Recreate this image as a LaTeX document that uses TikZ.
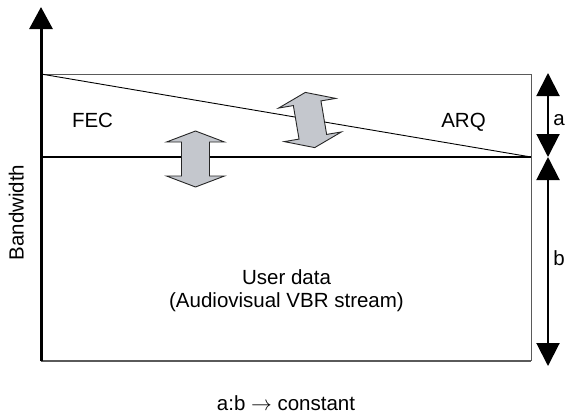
\documentclass[tikz,border=0pt]{standalone}
\usepackage{fontspec}
\setmainfont{Liberation Sans}
\usetikzlibrary{arrows.meta}
\definecolor{arrowfill}{RGB}{196,199,205}
\definecolor{boxline}{RGB}{90,90,90}
\tikzset{
  lbl/.style={font=\fontsize{20.5}{24}\selectfont, inner sep=0pt, anchor=base},
  dimline/.style={line width=2pt, {Triangle[width=23pt,length=23pt]}-{Triangle[width=23pt,length=23pt]}},
  dblarrow/.style={draw=black!85, line width=0.9pt, fill=arrowfill, line join=miter}
}
\begin{document}
\begin{tikzpicture}[x=1pt,y=-1pt]
\useasboundingbox (0,0) rectangle (565,416);
% coordinates
\coordinate (origin) at (41,361);
\coordinate (axistop) at (41,7);
\coordinate (tl) at (41,74);
\coordinate (tr) at (531,74);
\coordinate (ml) at (41,157);
\coordinate (mr) at (531,157);
\coordinate (br) at (531,361);
\coordinate (dtop) at (548,73);
\coordinate (dmid) at (548,157);
\coordinate (dbot) at (548,366);
% box
\draw[boxline, line width=1pt] (tl) -- (tr) -- (br);
\draw[boxline, line width=1.6pt] (origin) -- (br);
% split line
\draw[black, line width=1.8pt] (ml) -- (mr);
% diagonal
\draw[black, line width=0.9pt] (tl) -- (mr);
% axis
\draw[black, line width=3pt, -{Triangle[width=23pt,length=22pt]}] (origin) -- (axistop);
% double arrows
\begin{scope}[shift={(195.5,159)}]
\draw[dblarrow] (0,-28) -- (29,-17) -- (14,-17) -- (14,17) -- (29,17) -- (0,28) -- (-29,17) -- (-14,17) -- (-14,-17) -- (-29,-17) -- cycle;
\end{scope}
\begin{scope}[shift={(310,120)}, rotate=9.6]
\draw[dblarrow] (0,-28) -- (29,-17) -- (14,-17) -- (14,17) -- (29,17) -- (0,28) -- (-29,17) -- (-14,17) -- (-14,-17) -- (-29,-17) -- cycle;
\end{scope}
% dimension arrows
\draw[dimline] (dtop) -- (dmid);
\draw[dimline] (dmid) -- (dbot);
% labels
\node[lbl] (fec) at (92.5,127.3) {FEC};
\node[lbl] (arq) at (463.5,127) {ARQ};
\node[lbl] (la) at (559,125) {a};
\node[lbl] (lb) at (559,265.5) {b};
\node[lbl, rotate=90] (bw) at (23.5,212.5) {Bandwidth};
\node[lbl] (user1) at (286.5,284.7) {User data};
\node[lbl] (user2) at (286.5,307.5) {(Audiovisual VBR stream)};
\node[lbl] (ratio) at (286,410.5) {a:b $\rightarrow$ constant};
\end{tikzpicture}
\end{document}
